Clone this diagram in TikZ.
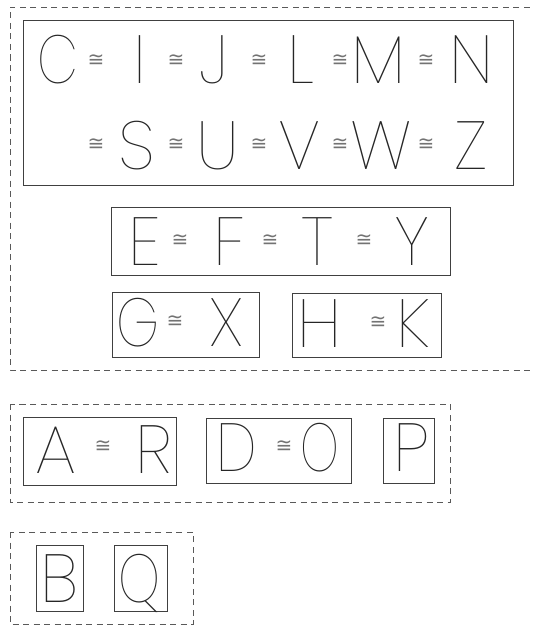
\documentclass[tikz,border=0pt]{standalone}
\usepackage{fontspec}
\newfontfamily\letfont{Poppins}[UprightFont={* Thin}]
\newfontfamily\symfont{DejaVu Sans}
\tikzset{
  let/.style={font=\letfont\fontsize{68}{68}\selectfont, text=black!85, inner sep=0pt, anchor=base},
  cg/.style={font=\symfont\fontsize{20}{20}\selectfont, text=black!55, inner sep=0pt},
  frame/.style={draw=black!75, line width=0.8pt},
  group/.style={draw=black!65, line width=0.7pt, dash pattern=on 6pt off 4.5pt}
}
\begin{document}
\begin{tikzpicture}[x=1pt,y=-1pt]
\useasboundingbox (0,0) rectangle (533,626);
% groups
\draw[group] (540,7) -- (10,7) -- (10,370) -- (540,370);
\draw[group] (10,404) rectangle (450,502);
\draw[group] (10,532) rectangle (193,624);
% frames
\draw[frame] (23,20) rectangle (513,185);
\draw[frame] (111,207) rectangle (450,275);
\draw[frame] (112,292) rectangle (259,357);
\draw[frame] (292,293) rectangle (441,357);
\draw[frame] (23,417) rectangle (176,485);
\draw[frame] (206,418) rectangle (351,483);
\draw[frame] (383,418) rectangle (434,483);
\draw[frame] (36,545) rectangle (83,611);
\draw[frame] (114,545) rectangle (167,611);
% row 1
\node[let, xscale=0.78] (C) at (57.5,83) {C};
\node[cg] (c1) at (96,61) {≅};
\node[let] (I) at (140,83) {I};
\node[cg] (c2) at (176,61) {≅};
\node[let] (J) at (213.5,83) {J};
\node[cg] (c3) at (259,61) {≅};
\node[let] (L) at (300.5,83) {L};
\node[cg] (c4) at (340,61) {≅};
\node[let] (M) at (379,83) {M};
\node[cg] (c5) at (426,61) {≅};
\node[let] (N) at (471.5,83) {N};
% row 2
\node[cg] (c6) at (96,145) {≅};
\node[let] (S) at (137,169) {S};
\node[cg] (c7) at (176,145) {≅};
\node[let] (U) at (217.5,169) {U};
\node[cg] (c8) at (259,145) {≅};
\node[let] (V) at (300,169) {V};
\node[cg] (c9) at (340,145) {≅};
\node[let] (W) at (381,169) {W};
\node[cg] (c10) at (426,145) {≅};
\node[let] (Z) at (471.5,169) {Z};
% EFTY
\node[let] (E) at (145,265) {E};
\node[cg] (c11) at (180,241) {≅};
\node[let] (F) at (229.5,265) {F};
\node[cg] (c12) at (270,241) {≅};
\node[let] (T) at (317,265) {T};
\node[cg] (c13) at (364,241) {≅};
\node[let] (Y) at (412,265) {Y};
% GX
\node[let, xscale=0.8] (G) at (138.5,346) {G};
\node[cg] (c14) at (175,322) {≅};
\node[let] (X) at (226.5,346) {X};
% HK
\node[let] (H) at (320,347) {H};
\node[cg] (c15) at (378,323) {≅};
\node[let] (K) at (413.5,347) {K};
% AR DO P
\node[let] (A) at (55.5,473) {A};
\node[cg] (c16) at (103,447) {≅};
\node[let] (R) at (153.5,473) {R};
\node[let, xscale=0.85] (D) at (237,471) {D};
\node[cg] (c17) at (284,447) {≅};
\node[let, xscale=0.72] (O) at (320,471) {O};
\node[let] (P) at (411,471) {P};
% BQ
\node[let] (B) at (60,602) {B};
\node[let, xscale=0.78] (Q) at (140,602) {Q};
\end{tikzpicture}
\end{document}
